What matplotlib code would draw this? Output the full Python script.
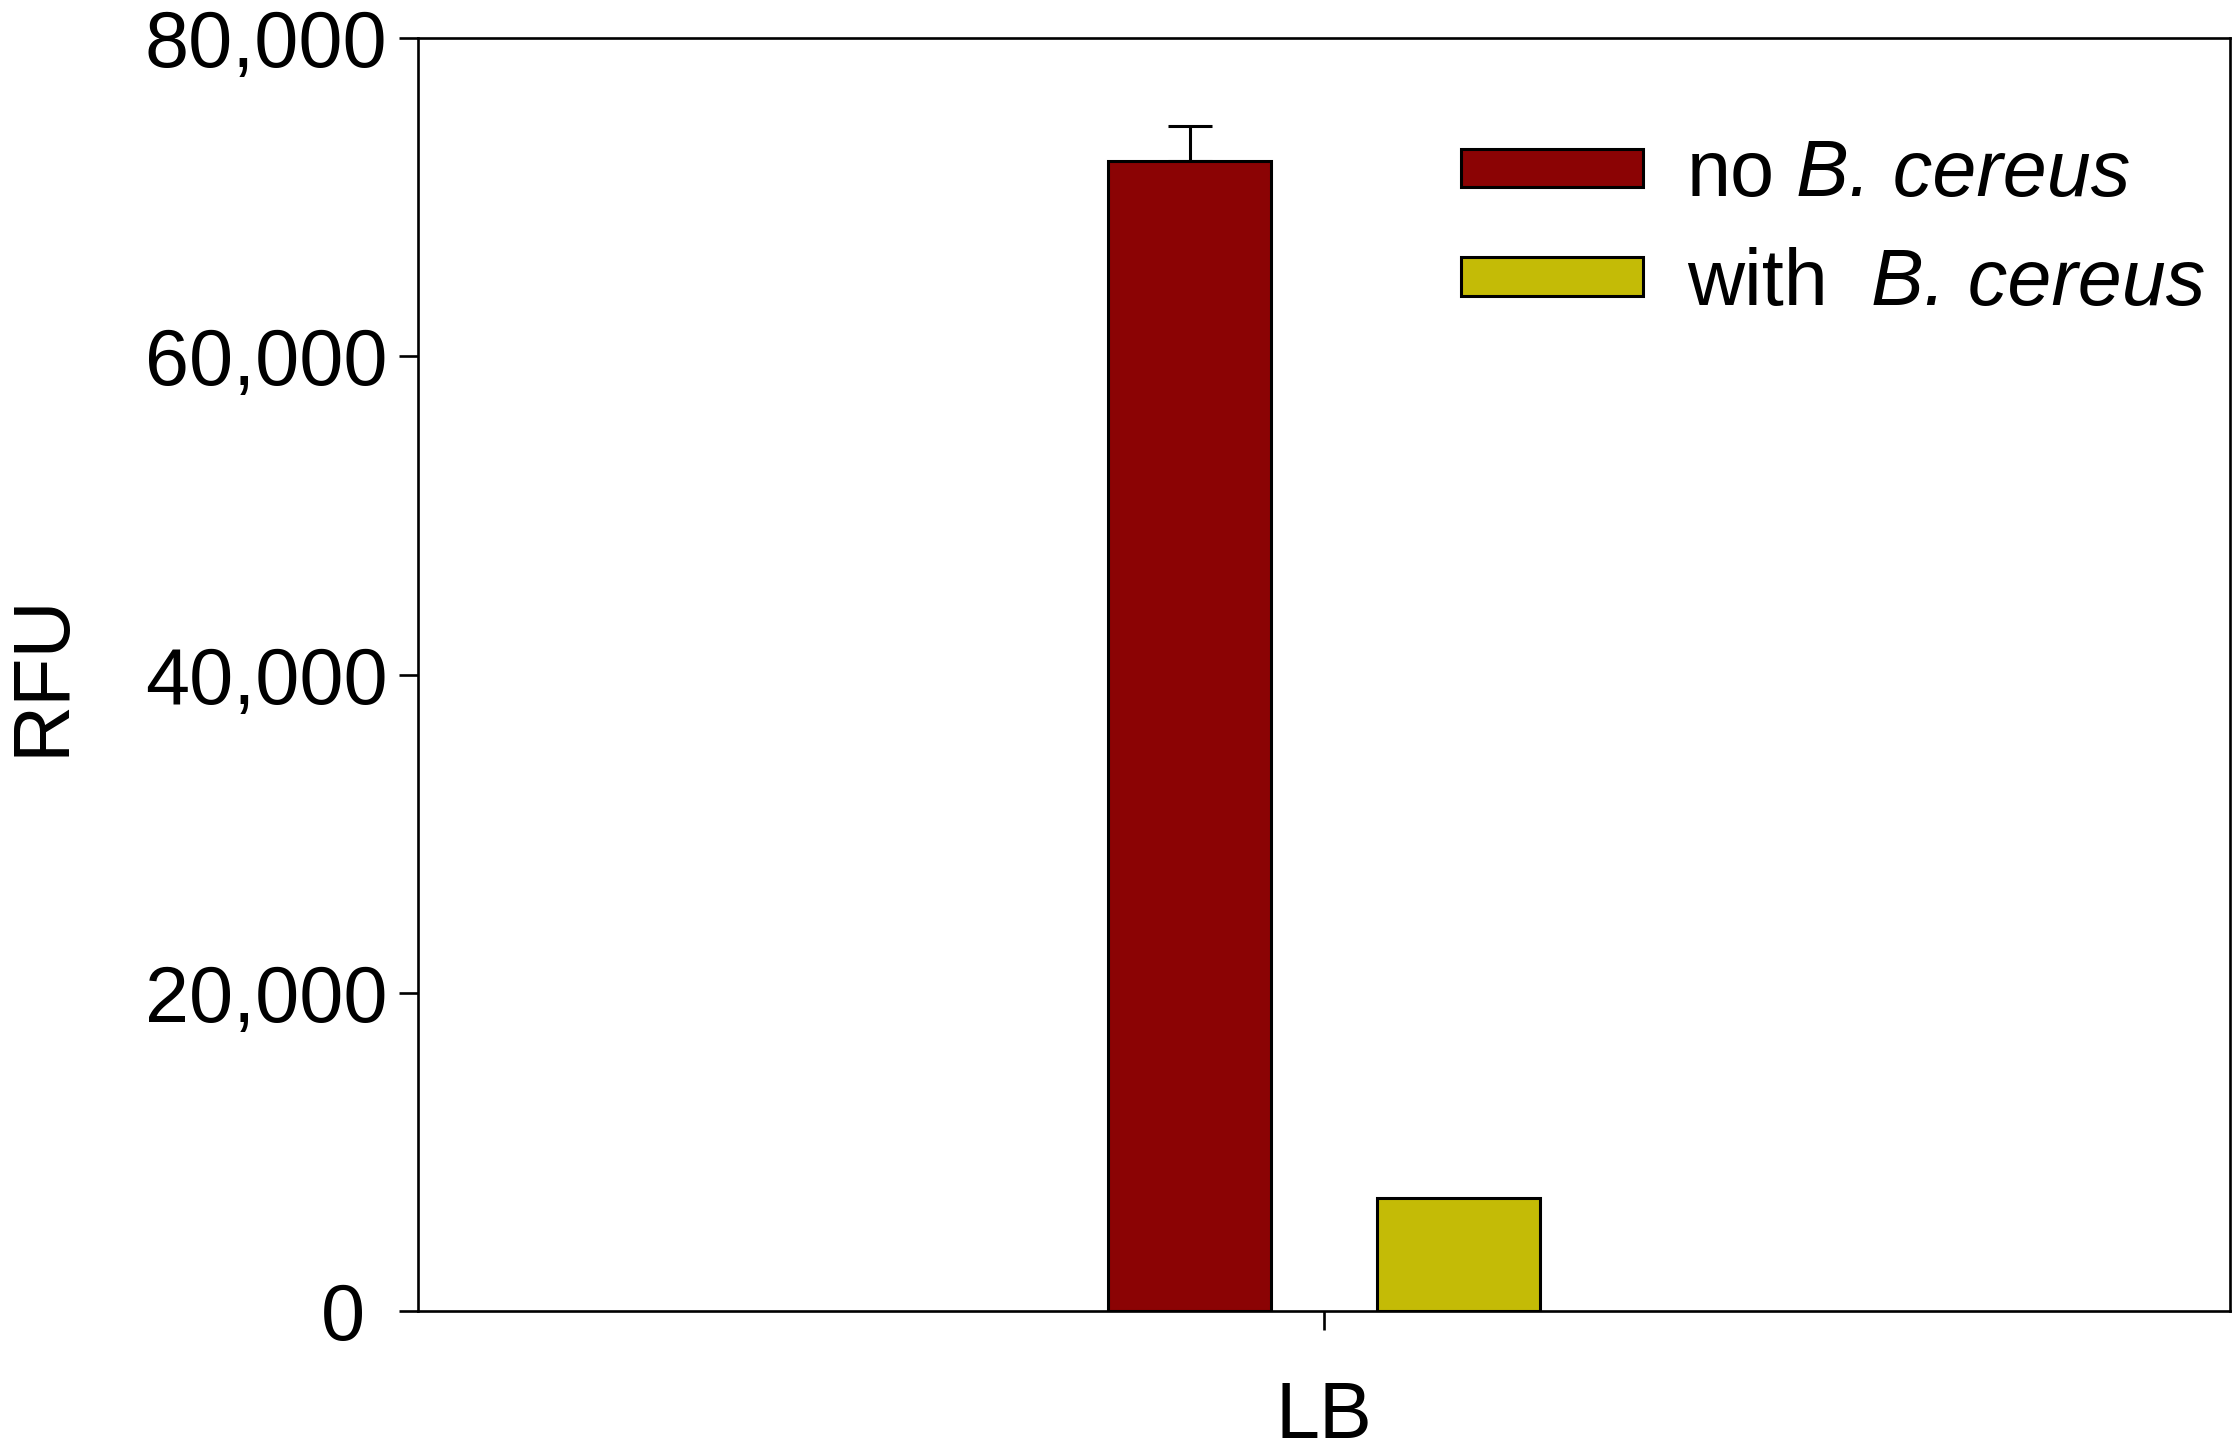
import numpy as np
import matplotlib
matplotlib.use("Agg")
from matplotlib import pyplot as plt

plt.rcParams['font.family'] = ['Liberation Sans', 'DejaVu Sans']

# data
categories = ['LB']
series_names = ['no', 'with']
species = 'B. cereus'
no_cereus = [72300]
no_cereus_err = [2200]
with_cereus = [7100]
colors = ['#8b0304', '#c4bb06']
yticks = [0, 20000, 40000, 60000, 80000]

fig = plt.figure(figsize=(22.4, 14.55), dpi=100)
ax = fig.add_axes([418/2240, 1-1311/1455, (2230-418)/2240, (1311-38)/1455])

x = np.arange(len(categories))
w = 0.18
off = 0.148
ax.bar(x-off, no_cereus, w, color=colors[0], edgecolor='black', linewidth=2.2,
       label=series_names[0], zorder=3)
ax.errorbar(x-off, no_cereus, yerr=[[0]*len(no_cereus), no_cereus_err], fmt='none',
            ecolor='black', elinewidth=2.2, capsize=15.5, capthick=2.2, zorder=2)
ax.bar(x+off, with_cereus, w, color=colors[1], edgecolor='black', linewidth=2.2,
       label=series_names[1], zorder=3)

ax.set_xlim(-1, 1)
ax.set_ylim(0, 80000)
ax.set_xticks(x)
ax.set_xticklabels(categories)
ax.set_yticks(yticks)
# the original's zero label sits a bit left of the others
ax.set_yticklabels(['{:,}'.format(v) if v else '0 ' for v in yticks])
ax.tick_params(axis='both', labelsize=57, direction='out', length=14, width=1.9)
ax.tick_params(axis='y', pad=8)
ax.tick_params(axis='x', pad=36)
for s in ax.spines.values():
    s.set_linewidth(1.9)
ax.set_ylabel('RFU', fontsize=57, labelpad=46)

leg = ax.legend(loc='upper left', bbox_to_anchor=(0.558, 0.946), frameon=False,
                fontsize=57, handlelength=2.3, handleheight=0.37,
                handletextpad=0.56, labelspacing=0.42, borderaxespad=0)
# italic species name after each legend label (drawn after the legend)
for t, gap in zip(leg.get_texts(), [15, 31]):
    ax.annotate(species, xy=(1, 0), xycoords=t, xytext=(gap, 0),
                textcoords='offset points', ha='left', va='bottom',
                fontsize=57, style='italic', zorder=10)

fig.savefig('out.png', dpi=100)
